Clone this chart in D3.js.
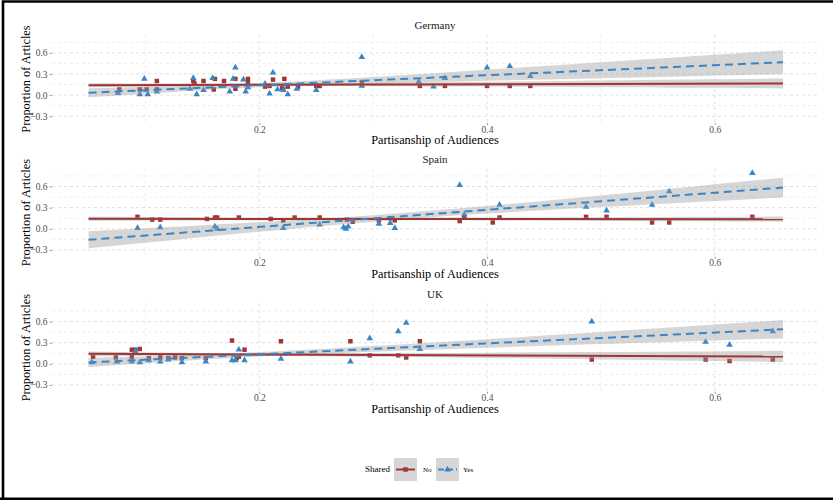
<!DOCTYPE html>
<html>
<head>
<meta charset="utf-8">
<script src="https://cdn.jsdelivr.net/npm/d3@7"></script>
<style>
  html, body { margin: 0; padding: 0; background: #fff; }
  svg { display: block; font-family: "Liberation Serif", "DejaVu Serif", serif; }
</style>
</head>
<body>
<div id="chart"></div>
<script>
// Data
const countries = ['Germany', 'Spain', 'UK'];
const seriesNames = ['No', 'Yes'];

const germanyNo = [[0.077,0.08],[0.095,0.08],[0.101,0.08],[0.110,0.20],[0.110,0.08],[0.142,0.20],[0.143,0.17],[0.151,0.20],[0.160,0.08],[0.161,0.23],[0.169,0.20],[0.179,0.23],[0.179,0.09],[0.190,0.23],[0.190,0.17],[0.205,0.12],[0.209,0.13],[0.212,0.22],[0.220,0.10],[0.221,0.08],[0.222,0.23],[0.225,0.12],[0.234,0.12],[0.250,0.13],[0.253,0.13],[0.290,0.18],[0.341,0.13],[0.363,0.13],[0.400,0.13],[0.420,0.13],[0.438,0.13]];
const germanyYes = [[0.076,0.03],[0.095,0.01],[0.099,0.23],[0.102,0.01],[0.110,0.05],[0.139,0.09],[0.142,0.24],[0.145,0.01],[0.151,0.07],[0.159,0.24],[0.174,0.05],[0.177,0.23],[0.179,0.39],[0.186,0.22],[0.188,0.05],[0.190,0.11],[0.205,0.16],[0.209,0.02],[0.212,0.32],[0.216,0.08],[0.221,0.07],[0.225,0.01],[0.233,0.09],[0.250,0.07],[0.290,0.13],[0.290,0.54],[0.340,0.19],[0.353,0.12],[0.363,0.24],[0.400,0.39],[0.420,0.41],[0.438,0.27]];
const spainNo = [[0.093,0.17],[0.106,0.13],[0.113,0.13],[0.154,0.14],[0.161,0.16],[0.163,0.16],[0.182,0.16],[0.210,0.14],[0.221,0.12],[0.231,0.16],[0.253,0.16],[0.277,0.13],[0.282,0.10],[0.305,0.12],[0.315,0.15],[0.319,0.12],[0.376,0.11],[0.380,0.17],[0.405,0.09],[0.411,0.16],[0.487,0.17],[0.505,0.17],[0.545,0.09],[0.560,0.09],[0.633,0.17]];
const spainYes = [[0.093,0.01],[0.113,0.02],[0.161,0.03],[0.163,0.00],[0.221,0.01],[0.253,0.06],[0.274,0.02],[0.276,0.00],[0.278,0.03],[0.305,0.07],[0.315,0.08],[0.319,0.01],[0.376,0.62],[0.380,0.20],[0.411,0.34],[0.487,0.31],[0.505,0.26],[0.545,0.34],[0.560,0.53],[0.633,0.79]];
const ukNo = [[0.054,0.10],[0.074,0.09],[0.088,0.20],[0.088,0.10],[0.091,0.20],[0.095,0.21],[0.103,0.08],[0.113,0.09],[0.120,0.08],[0.126,0.09],[0.132,0.08],[0.153,0.08],[0.176,0.33],[0.180,0.08],[0.182,0.10],[0.187,0.20],[0.219,0.32],[0.280,0.32],[0.297,0.12],[0.322,0.12],[0.329,0.09],[0.341,0.32],[0.492,0.06],[0.592,0.06],[0.613,0.04],[0.651,0.06]];
const ukYes = [[0.053,0.02],[0.075,0.03],[0.088,0.03],[0.091,0.18],[0.095,0.02],[0.103,0.05],[0.113,0.03],[0.120,0.06],[0.132,0.02],[0.153,0.03],[0.176,0.05],[0.179,0.05],[0.182,0.20],[0.187,0.05],[0.219,0.07],[0.280,0.03],[0.297,0.36],[0.322,0.46],[0.329,0.58],[0.341,0.21],[0.492,0.60],[0.592,0.31],[0.613,0.27],[0.651,0.46]];

// Linear fits: fitted value at fitX ends, band half-width at bandX
const fitX = [0.05, 0.66];
const germanyFitNo = [0.140, 0.165];
const germanyFitYes = [0.033, 0.467];
const spainFitNo = [0.141, 0.137];
const spainFitYes = [-0.156, 0.585];
const ukFitNo = [0.141, 0.104];
const ukFitYes = [0.019, 0.490];

const bandX = [0.05, 0.125, 0.2, 0.3, 0.4, 0.5, 0.58, 0.66];
const germanyBandNo = [0.028, 0.021, 0.018, 0.023, 0.034, 0.048, 0.059, 0.070];
const germanyBandYes = [0.065, 0.041, 0.030, 0.047, 0.079, 0.113, 0.141, 0.170];
const spainBandNo = [0.030, 0.024, 0.020, 0.019, 0.021, 0.026, 0.031, 0.036];
const spainBandYes = [0.120, 0.093, 0.068, 0.046, 0.053, 0.082, 0.110, 0.140];
const ukBandNo = [0.035, 0.022, 0.020, 0.026, 0.038, 0.052, 0.066, 0.080];
const ukBandYes = [0.065, 0.042, 0.032, 0.040, 0.060, 0.085, 0.107, 0.130];

const xTicks = [0.2, 0.4, 0.6];
const xMinor = [0.1, 0.3, 0.5];
const yTicks = [-0.3, 0.0, 0.3, 0.6];
const yMinor = [-0.15, 0.15, 0.45, 0.75];

const panels = [
  { name: countries[0], pts: [germanyNo, germanyYes], fit: [germanyFitNo, germanyFitYes], band: [germanyBandNo, germanyBandYes] },
  { name: countries[1], pts: [spainNo, spainYes], fit: [spainFitNo, spainFitYes], band: [spainBandNo, spainBandYes] },
  { name: countries[2], pts: [ukNo, ukYes], fit: [ukFitNo, ukFitYes], band: [ukBandNo, ukBandYes] }
];

const W = 833, H = 500;
const PANEL_L = 52, PANEL_R = 818, PANEL_H = 88;
const panelTops = [35, 168.7, 303.7];
const RED = '#9f3535';
const BLUE = '#3a85c6';
const colors = [RED, BLUE];

const svg = d3.select('#chart').append('svg')
  .attr('width', W).attr('height', H);

const x = d3.scaleLinear().domain([0.0179, 0.6907]).range([PANEL_L, PANEL_R]);
const fmt = d3.format('.1f');

const square = d3.symbol().type(d3.symbolSquare).size(20);
const triangle = d3.symbol().type(d3.symbolTriangle).size(19);
const shapes = [square, triangle];

panels.forEach((p, i) => {
  const top = panelTops[i];
  const bottom = top + PANEL_H;
  const y = d3.scaleLinear().domain([-0.396, 0.853]).range([bottom, top]);
  const g = svg.append('g');

  // Grid (dashed, theme_minimal style)
  xMinor.forEach(v => g.append('line')
    .attr('x1', x(v)).attr('x2', x(v)).attr('y1', top).attr('y2', bottom)
    .attr('stroke', '#e6e6e6').attr('stroke-width', 0.7).attr('stroke-dasharray', '3,3'));
  yMinor.forEach(v => g.append('line')
    .attr('x1', PANEL_L).attr('x2', PANEL_R).attr('y1', y(v)).attr('y2', y(v))
    .attr('stroke', '#e6e6e6').attr('stroke-width', 0.7).attr('stroke-dasharray', '3,3'));
  xTicks.forEach(v => g.append('line')
    .attr('x1', x(v)).attr('x2', x(v)).attr('y1', top).attr('y2', bottom)
    .attr('stroke', '#dcdcdc').attr('stroke-width', 0.9).attr('stroke-dasharray', '3,3'));
  yTicks.forEach(v => g.append('line')
    .attr('x1', PANEL_L).attr('x2', PANEL_R).attr('y1', y(v)).attr('y2', y(v))
    .attr('stroke', '#dcdcdc').attr('stroke-width', 0.9).attr('stroke-dasharray', '3,3'));

  // Axes
  const yAxis = d3.axisLeft(y).tickValues(yTicks).tickFormat(fmt).tickSize(2.5).tickPadding(2);
  const ya = g.append('g').attr('transform', `translate(${PANEL_L},0)`).call(yAxis);
  const xAxis = d3.axisBottom(x).tickValues(xTicks).tickFormat(fmt).tickSize(2).tickPadding(1);
  const xa = g.append('g').attr('transform', `translate(0,${bottom})`).call(xAxis);
  [ya, xa].forEach(a => {
    a.select('.domain').remove();
    a.selectAll('line').attr('stroke', '#555').attr('stroke-width', 0.6);
    a.selectAll('text').attr('fill', '#4d4d4d').style('font-size', '9.5px')
      .style('font-family', '"Liberation Serif", serif');
  });

  // Points
  p.pts.forEach((pts, s) => {
    g.append('g').selectAll('path').data(pts).join('path')
      .attr('d', shapes[s])
      .attr('transform', d => `translate(${x(d[0])},${y(d[1])})`)
      .attr('fill', colors[s]);
  });

  // Confidence bands
  p.band.forEach((hw, s) => {
    const fit = p.fit[s];
    const slope = (fit[1] - fit[0]) / (fitX[1] - fitX[0]);
    const yFit = v => fit[0] + slope * (v - fitX[0]);
    const rows = bandX.map((v, k) => ({ v, lo: yFit(v) - hw[k], hi: yFit(v) + hw[k] }));
    g.append('path')
      .datum(rows)
      .attr('d', d3.area().curve(d3.curveNatural)
        .x(d => x(d.v)).y0(d => y(d.lo)).y1(d => y(d.hi)))
      .attr('fill', '#999999').attr('fill-opacity', 0.4);
  });

  // Fit lines
  p.fit.forEach((fit, s) => {
    g.append('line')
      .attr('x1', x(fitX[0])).attr('x2', x(fitX[1]))
      .attr('y1', y(fit[0])).attr('y2', y(fit[1]))
      .attr('stroke', colors[s]).attr('stroke-width', 2)
      .attr('stroke-dasharray', s === 1 ? '8,5' : null);
  });

  // Strip title
  g.append('text')
    .attr('x', (PANEL_L + PANEL_R) / 2).attr('y', top - 10).attr('dy', '0.35em')
    .attr('text-anchor', 'middle').attr('fill', '#1a1a1a').style('font-size', '11px')
    .text(p.name);

  // Axis titles
  g.append('text')
    .attr('x', (PANEL_L + PANEL_R) / 2).attr('y', bottom + 17).attr('dy', '0.35em')
    .attr('text-anchor', 'middle').attr('fill', '#000').style('font-size', '12.3px')
    .text('Partisanship of Audiences');
  g.append('text')
    .attr('transform', `translate(26,${(top + bottom) / 2}) rotate(-90)`)
    .attr('dy', '0.35em')
    .attr('text-anchor', 'middle').attr('fill', '#000').style('font-size', '12.3px')
    .text('Proportion of Articles');
});

// Legend
const lg = svg.append('g');
lg.append('text').attr('x', 365).attr('y', 469).attr('dy', '0.35em')
  .style('font-size', '9px').attr('fill', '#000').text('Shared');
const keyX = [394, 436];
const labelX = [423, 463];
seriesNames.forEach((name, s) => {
  const kx = keyX[s];
  lg.append('rect').attr('x', kx).attr('y', 458).attr('width', 23).attr('height', 23)
    .attr('fill', '#999999').attr('fill-opacity', 0.4);
  lg.append('line').attr('x1', kx + 2).attr('x2', kx + 21).attr('y1', 469.5).attr('y2', 469.5)
    .attr('stroke', colors[s]).attr('stroke-width', 2)
    .attr('stroke-dasharray', s === 1 ? '6,3' : null);
  lg.append('path').attr('d', shapes[s]).attr('transform', `translate(${kx + 11.5},469.5)`)
    .attr('fill', colors[s]);
  lg.append('text').attr('x', labelX[s]).attr('y', 469.5).attr('dy', '0.35em')
    .style('font-size', '7px').attr('fill', '#000').text(name);
});

// Outer frame
svg.append('path')
  .attr('d', `M3,${H} L3,1.5 L${W},1.5 M0,498.8 L${W},498.8`)
  .attr('fill', 'none').attr('stroke', '#000').attr('stroke-width', 2.6);
</script>
</body>
</html>
